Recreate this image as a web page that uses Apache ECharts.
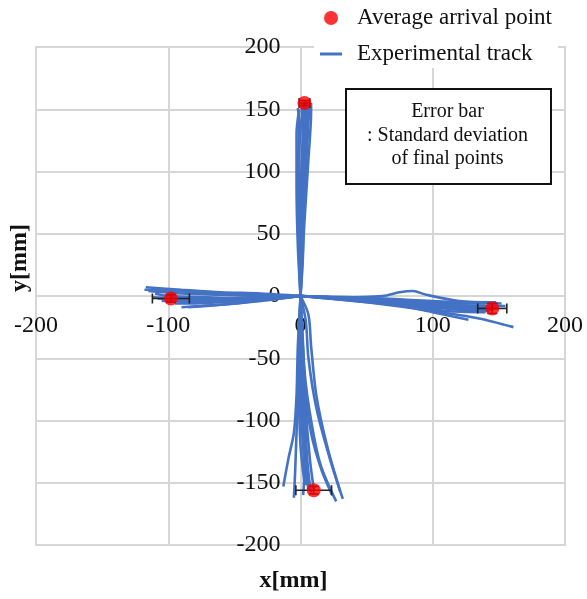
<!DOCTYPE html>
<html>
<head>
<meta charset="utf-8">
<script src="https://cdn.jsdelivr.net/npm/echarts@6/dist/echarts.min.js"></script>
<style>
  html, body { margin: 0; padding: 0; background: #fff; }
  #chart { width: 587px; height: 599px; }
</style>
</head>
<body>
<div id="chart"></div>
<script>
// tick values (mm)
const xTicks = [-200, -100, 0, 100, 200];
const yTicks = [-200, -150, -100, -50, 0, 50, 100, 150, 200];

// experimental tracks, [x, y] in mm
const tracksUp = [
  [[0, 0], [1, 40], [2, 90], [3, 130], [4, 152]],
  [[0, 0], [-1, 50], [-2, 100], [-1, 140], [-2, 151]],
  [[0, 0], [2, 50], [4, 100], [6, 140], [7, 154]],
  [[0, 0], [0, 60], [1, 110], [3, 145], [5, 156]],
  [[0, 0], [-2, 40], [-3, 90], [-3, 130], [-1, 150]],
  [[0, 0], [3, 60], [6, 110], [8, 148], [8, 155]],
  [[0, 0], [1, 70], [2, 120], [1, 150], [2, 155]],
  [[0, 0], [-1, 30], [1, 80], [4, 120], [6, 152]],
  [[0, 0], [0, 50], [-1, 100], [0, 135], [3, 153]],
  [[0, 0], [2, 40], [2, 90], [5, 130], [4, 150]],
  [[0, 0], [1, 50], [3, 100], [5, 135], [6, 150]],
];

const tracksDown = [
  [[0, 0], [-1, -40], [0, -80], [2, -120], [4, -152]],
  [[0, 0], [1, -50], [2, -100], [4, -135], [6, -156]],
  [[0, 0], [-2, -40], [-3, -80], [-5, -110], [-9, -130], [-13, -153]],
  [[0, 0], [6, -15], [8, -40], [12, -80], [20, -120], [30, -157]],
  [[0, 0], [4, -20], [6, -50], [12, -90], [22, -130], [32, -163]],
  [[0, 0], [1, -30], [3, -70], [8, -110], [16, -140], [24, -160]],
  [[0, 0], [0, -60], [2, -110], [5, -140], [8, -158]],
  [[0, 0], [-1, -50], [1, -100], [3, -140], [2, -160]],
  [[0, 0], [2, -40], [4, -90], [7, -130], [10, -155]],
  [[0, 0], [0, -30], [-1, -80], [0, -120], [3, -150]],
  [[0, 0], [3, -60], [8, -100], [15, -135], [27, -165]],
  [[0, 0], [-1, -60], [-3, -110], [-4, -140], [-5, -162]],
  [[0, 0], [1, -40], [3, -90], [5, -130], [7, -152]],
];

const tracksLeft = [
  [[0, 0], [-30, 2], [-60, 3], [-90, 5], [-117, 7]],
  [[0, 0], [-30, 0], [-60, 1], [-90, 2], [-115, 4]],
  [[0, 0], [-30, -2], [-60, -3], [-90, -2], [-112, -1]],
  [[0, 0], [-30, -1], [-60, -4], [-85, -5], [-100, -3]],
  [[0, 0], [-25, -3], [-50, -6], [-75, -8], [-90, -9]],
  [[0, 0], [-30, -4], [-60, -7], [-85, -9]],
  [[0, 0], [-40, -2], [-70, -1], [-100, 0], [-110, 2]],
  [[0, 0], [-20, 0], [-50, -2], [-80, -3], [-105, -4]],
  [[0, 0], [-35, 1], [-65, 2], [-95, 4], [-118, 5]],
  [[0, 0], [-30, -3], [-60, -5], [-80, -6], [-95, -6]],
  [[0, 0], [-30, -1], [-60, -2], [-90, -3], [-108, -2]],
];

const tracksRight = [
  [[0, 0], [40, -2], [80, -4], [120, -6], [140, -6]],
  [[0, 0], [40, -3], [80, -5], [120, -8], [145, -9]],
  [[0, 0], [30, -1], [62, 0], [75, 3], [85, 4], [95, 1], [120, -4], [148, -5]],
  [[0, 0], [40, -4], [80, -8], [110, -12], [140, -13]],
  [[0, 0], [40, -3], [72, -7], [100, -13], [127, -19]],
  [[0, 0], [50, -5], [100, -12], [135, -18], [161, -25]],
  [[0, 0], [40, -2], [80, -5], [120, -9], [150, -10]],
  [[0, 0], [30, -2], [70, -4], [110, -7], [155, -8]],
  [[0, 0], [40, -3], [80, -7], [120, -11], [143, -12]],
  [[0, 0], [40, -1], [80, -3], [120, -5], [152, -6]],
  [[0, 0], [40, -2], [80, -6], [120, -10], [146, -11]],
];

// average arrival points and standard deviation of final points
const avgX = [3, 10, -98, 145];
const avgY = [155, -156, -2, -10];
const sdX = [4, 13.5, 14, 11];
const sdY = [2, 3, 3, 4];

const boxLines = ["Error bar", ": Standard deviation", "of final points"];

const FONT = "'Liberation Serif', 'Times New Roman', serif";
const TRACK = "Experimental track";
const AVG = "Average arrival point";

const chart = echarts.init(document.getElementById("chart"));

const allTracks = [].concat(tracksUp, tracksDown, tracksLeft, tracksRight);
const trackSeries = allTracks.map((t) => ({
  name: TRACK,
  type: "line",
  data: t,
  symbol: "none",
  smooth: 0.3,
  silent: true,
  lineStyle: { width: 2.6, color: "#4472c4" },
  itemStyle: { color: "#4472c4" },
  z: 2,
}));

const avgData = avgX.map((x, i) => [x, avgY[i]]);
const errData = avgX.map((x, i) => [x, avgY[i], sdX[i], sdY[i]]);

function renderErrorBar(params, api) {
  const x = api.value(0);
  const y = api.value(1);
  const dx = api.value(2);
  const dy = api.value(3);
  const l = api.coord([x - dx, y]);
  const r = api.coord([x + dx, y]);
  const t = api.coord([x, y + dy]);
  const b = api.coord([x, y - dy]);
  const cap = 5;
  const style = { stroke: "#222", lineWidth: 1.6 };
  const line = (x1, y1, x2, y2) => ({
    type: "line",
    shape: { x1, y1, x2, y2 },
    style,
  });
  return {
    type: "group",
    children: [
      line(l[0], l[1], r[0], r[1]),
      line(l[0], l[1] - cap, l[0], l[1] + cap),
      line(r[0], r[1] - cap, r[0], r[1] + cap),
      line(t[0], t[1], b[0], b[1]),
      line(t[0] - cap, t[1], t[0] + cap, t[1]),
      line(b[0] - cap, b[1], b[0] + cap, b[1]),
    ],
  };
}

const gridLine = { color: "#d6d6d6", width: 2 };
const gridW = 529;
const gridH = 498;

chart.setOption({
  animation: false,
  textStyle: { fontFamily: FONT },
  grid: {
    left: 36,
    top: 47,
    width: gridW,
    height: gridH,
    show: true,
    borderColor: "#d6d6d6",
    borderWidth: 2,
    outerBoundsMode: "none",
  },
  legend: {
    orient: "vertical",
    left: 314,
    top: 4,
    itemWidth: 22,
    itemHeight: 14,
    itemGap: 12,
    backgroundColor: "#fff",
    padding: [2, 6, 2, 6],
    textStyle: {
      fontFamily: FONT,
      fontSize: 23,
      color: "#111",
      lineHeight: 24,
      padding: [0, 0, 0, 10],
    },
    data: [
      { name: AVG, icon: "circle" },
      { name: TRACK, icon: "path://M0,0 L22,0 L22,3 L0,3 Z", itemStyle: { color: "#4472c4" } },
    ],
  },
  xAxis: {
    type: "value",
    min: -200,
    max: 200,
    interval: 100,
    position: "bottom",
    offset: -gridH / 2,
    axisLine: { show: true, onZero: false, lineStyle: gridLine },
    axisTick: { show: false },
    splitLine: { lineStyle: gridLine },
    axisLabel: {
      margin: 18,
      fontSize: 24,
      color: "#111",
      fontFamily: FONT,
      formatter: (v) => (xTicks.includes(v) ? String(v) : ""),
    },
  },
  yAxis: {
    type: "value",
    min: -200,
    max: 200,
    interval: 50,
    position: "left",
    offset: -gridW / 2,
    axisLine: { show: true, onZero: false, lineStyle: gridLine },
    axisTick: { show: false },
    splitLine: { lineStyle: gridLine },
    axisLabel: {
      margin: 20,
      fontSize: 24,
      color: "#111",
      fontFamily: FONT,
      formatter: (v) => (yTicks.includes(v) ? String(v) : ""),
    },
  },
  graphic: [
    {
      type: "text",
      left: 8,
      top: 224,
      rotation: Math.PI / 2,
      z: 10,
      style: {
        text: "y[mm]",
        font: "bold 24px " + FONT,
        fill: "#111",
      },
    },
    {
      type: "text",
      left: "center",
      top: 569,
      z: 10,
      style: {
        text: "x[mm]",
        font: "bold 24px " + FONT,
        fill: "#111",
      },
    },
    {
      type: "rect",
      left: 345,
      top: 88,
      z: 10,
      shape: { width: 205, height: 95 },
      style: { fill: "#fff", stroke: "#111", lineWidth: 2 },
    },
    {
      type: "text",
      x: 447.5,
      y: 135.5,
      z: 11,
      style: {
        text: boxLines.join("\n"),
        font: "20px " + FONT,
        lineHeight: 23.5,
        fill: "#111",
        align: "center",
        verticalAlign: "middle",
      },
    },
  ],
  series: trackSeries.concat([
    {
      name: "errorbar",
      type: "custom",
      renderItem: renderErrorBar,
      data: errData,
      encode: { x: 0, y: 1 },
      silent: true,
      z: 4,
    },
    {
      name: AVG,
      type: "scatter",
      data: avgData,
      symbol: "circle",
      symbolSize: 14,
      itemStyle: { color: "#ff0000" },
      z: 5,
    },
  ]),
});
</script>
</body>
</html>
